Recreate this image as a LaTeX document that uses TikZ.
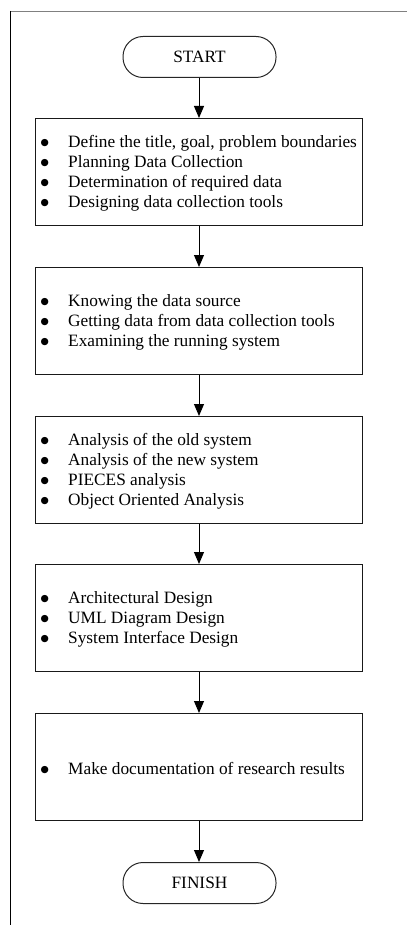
\documentclass[tikz,border=0pt]{standalone}
\usepackage{fontspec}
\setmainfont{Liberation Serif}
\newfontfamily\dejavu{DejaVu Sans}
\usetikzlibrary{arrows.meta}
\newcommand{\itm}[1]{\makebox[27.5pt][l]{\raisebox{1.4pt}{\dejavu\fontsize{9.5}{10}\selectfont ●}}#1}
\begin{document}
\begin{tikzpicture}[x=1pt,y=-1pt,
  font=\fontsize{17.3}{20}\selectfont,
  stepbox/.style={draw=black!90, line width=1pt, minimum width=326.5pt, minimum height=107pt, anchor=north},
  txt/.style={align=left, inner sep=0pt, anchor=west},
  term/.style={draw=black!85, line width=1pt, rounded corners=20pt, minimum width=153pt,
    minimum height=41pt, anchor=north},
  arr/.style={line width=1pt, -{Triangle[length=12pt,width=10pt]}}]
\useasboundingbox (0,0) rectangle (407,925);
\draw[black!50, line width=1.5pt] (10,11.5) -- (407,11.5);
\draw[black, line width=1.3pt] (10.5,11) -- (10.5,925);
\node[term] (start) at (199.5,36) {START};
\node[stepbox] (b1) at (198.75,118) {};
\node[stepbox] (b2) at (198.75,267) {};
\node[stepbox] (b3) at (198.75,416) {};
\node[stepbox] (b4) at (198.75,564) {};
\node[stepbox] (b5) at (198.75,713) {};
\node[term] (finish) at (199.5,862) {FINISH};
\node[txt] (t1) at ([xshift=5.5pt,yshift=-1pt]b1.west) {\itm{Define the title, goal, problem boundaries}\\\itm{Planning Data Collection}\\\itm{Determination of required data}\\\itm{Designing data collection tools}};
\node[txt] (t2) at ([xshift=5.5pt,yshift=-1pt]b2.west) {\itm{Knowing the data source}\\\itm{Getting data from data collection tools}\\\itm{Examining the running system}};
\node[txt] (t3) at ([xshift=5.5pt,yshift=-1pt]b3.west) {\itm{Analysis of the old system}\\\itm{Analysis of the new system}\\\itm{PIECES analysis}\\\itm{Object Oriented Analysis}};
\node[txt] (t4) at ([xshift=5.5pt,yshift=-1pt]b4.west) {\itm{Architectural Design}\\\itm{UML Diagram Design}\\\itm{System Interface Design}};
\node[txt] (t5) at ([xshift=5.5pt,yshift=-1pt]b5.west) {\itm{Make documentation of research results}};
\draw[arr] (start.south -| 199,0) -- (b1.north -| 199,0);
\draw[arr] (b1.south -| 199,0) -- (b2.north -| 199,0);
\draw[arr] (b2.south -| 199,0) -- (b3.north -| 199,0);
\draw[arr] (b3.south -| 199,0) -- (b4.north -| 199,0);
\draw[arr] (b4.south -| 199,0) -- (b5.north -| 199,0);
\draw[arr] (b5.south -| 199,0) -- (finish.north -| 199,0);
\end{tikzpicture}
\end{document}
